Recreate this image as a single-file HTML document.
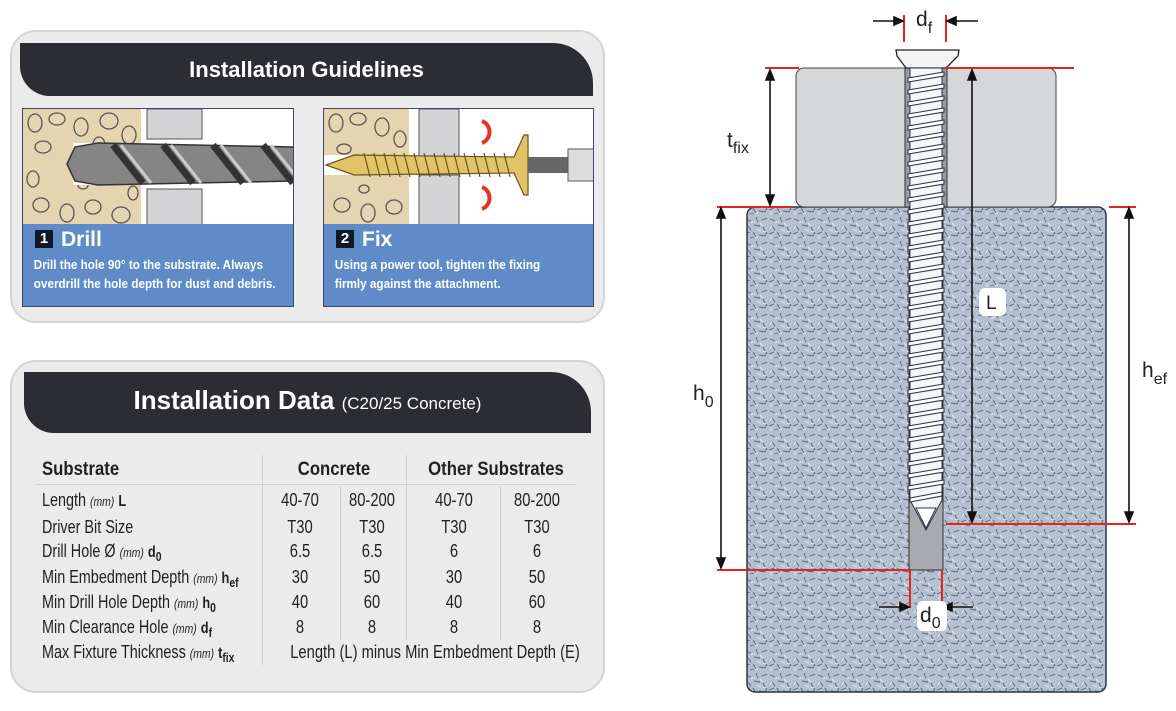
<!DOCTYPE html>
<html><head><meta charset="utf-8">
<style>
*{margin:0;padding:0;box-sizing:border-box}
body{width:1176px;height:711px;background:#fff;position:relative;overflow:hidden;font-family:"Liberation Sans",sans-serif;color:#231f20}
.abs{position:absolute}
.panel{position:absolute;background:#ebebeb;border:2px solid #d4d4d4;border-radius:26px}
.hdr{position:absolute;background:#2b2d33;color:#fff;border-radius:0 40px 0 30px;text-align:center;font-weight:bold}
.card{position:absolute;border:1px solid #3b4a6a;background:#fff;overflow:hidden}
.blue{position:absolute;left:0;right:0;bottom:0;height:82px;background:#5f8bc9;color:#fff}
.num{display:inline-block;background:#111827;color:#fff;font-weight:bold;font-size:15px;width:18px;height:18px;line-height:18px;text-align:center;margin-right:8px;vertical-align:3px}
.tt{font-size:21px;font-weight:bold;padding:4px 0 0 12px}
.desc{font-size:13px;line-height:19px;padding:3px 0 0 12px;transform:scaleX(.9);transform-origin:left;white-space:nowrap;font-weight:bold}
.lab{position:absolute;left:42px;font-size:18px;line-height:22px;white-space:nowrap;transform:scaleX(.8);transform-origin:left center}
.v{position:absolute;width:90px;text-align:center;font-size:18px;line-height:22px;transform:scaleX(.82);white-space:nowrap}
.mm{font-style:italic;font-size:13px}
sub{font-size:13px;font-weight:bold;vertical-align:-4px}
.sb{font-weight:bold;font-size:16px}
.hd{position:absolute;font-weight:bold;font-size:19px;line-height:24px;white-space:nowrap;transform:scaleX(.88);text-align:center}
.vl{position:absolute;width:1px;background:#d0d0d0}
</style></head><body>

<div class="panel" style="left:10px;top:30px;width:595px;height:293px"></div>
<div class="hdr" style="left:20px;top:43px;width:573px;height:53px;line-height:53px;font-size:22px">Installation Guidelines</div>

<div class="card" style="left:22px;top:108px;width:272px;height:199px">
 <svg width="272" height="118" class="abs" style="left:0;top:0">
  <rect x="0" y="0" width="118" height="118" fill="#e6d4b0"/>
  <g fill="none" stroke="#555" stroke-width="1.3">
   <ellipse cx="12" cy="14" rx="7" ry="9"/><ellipse cx="34" cy="10" rx="8" ry="6"/><ellipse cx="58" cy="18" rx="7" ry="9"/><ellipse cx="86" cy="12" rx="9" ry="8"/><ellipse cx="106" cy="26" rx="7" ry="9"/>
   <ellipse cx="20" cy="38" rx="8" ry="6"/><ellipse cx="76" cy="36" rx="6" ry="8"/><ellipse cx="10" cy="70" rx="6" ry="8"/>
   <ellipse cx="18" cy="96" rx="8" ry="7"/><ellipse cx="44" cy="104" rx="7" ry="9"/><ellipse cx="70" cy="98" rx="8" ry="7"/><ellipse cx="98" cy="106" rx="9" ry="8"/><ellipse cx="110" cy="84" rx="5" ry="7"/><ellipse cx="60" cy="76" rx="5" ry="4"/>
  </g>
  <rect x="118" y="0" width="154" height="118" fill="#fff"/>
  <rect x="124" y="0" width="55" height="30" fill="#d4d4d6" stroke="#555"/>
  <rect x="124" y="80" width="55" height="38" fill="#d4d4d6" stroke="#555"/>
  <rect x="50" y="34" width="222" height="42" fill="#fff"/>
  <path d="M44 55 L52 38 L75 34 L272 38 L272 72 L75 76 L52 72Z" fill="#858585" stroke="#333" stroke-width="1.5"/>
  <g stroke="#333" stroke-width="7" fill="none"><path d="M90 36 L120 74 M140 36 L170 74 M190 36 L220 74 M240 36 L270 74"/></g>
  <g stroke="#ccc" stroke-width="3" fill="none"><path d="M98 36 L128 74 M148 36 L178 74 M198 36 L228 74 M248 36 L272 66"/></g>
 </svg>
 <div class="blue"><div class="tt"><span class="num">1</span>Drill</div><div class="desc">Drill the hole 90° to the substrate. Always<br>overdrill the hole depth for dust and debris.</div></div>
</div>

<div class="card" style="left:323px;top:108px;width:271px;height:199px">
 <svg width="271" height="118" class="abs" style="left:0;top:0">
  <rect x="0" y="0" width="85" height="118" fill="#e6d4b0"/>
  <g fill="none" stroke="#555" stroke-width="1.3">
   <ellipse cx="12" cy="14" rx="7" ry="9"/><ellipse cx="34" cy="10" rx="8" ry="6"/><ellipse cx="58" cy="18" rx="7" ry="9"/><ellipse cx="76" cy="30" rx="6" ry="8"/><ellipse cx="20" cy="40" rx="7" ry="5"/>
   <ellipse cx="18" cy="96" rx="8" ry="7"/><ellipse cx="44" cy="104" rx="7" ry="9"/><ellipse cx="70" cy="98" rx="8" ry="7"/><ellipse cx="40" cy="80" rx="5" ry="4"/>
  </g>
  <rect x="0" y="46" width="100" height="20" fill="#fff"/>
  <rect x="95" y="0" width="40" height="48" fill="#d4d4d6" stroke="#555"/>
  <rect x="95" y="66" width="40" height="52" fill="#d4d4d6" stroke="#555"/>
  <path d="M2 56 L30 46 L190 48 L200 26 L204 26 L204 86 L200 86 L190 64 L30 66Z" fill="#e2c36a" stroke="#6b5318" stroke-width="1.2"/>
  <g stroke="#6b5318" stroke-width="1.2"><path d="M40 44 L46 68 M50 44 L56 68 M60 44 L66 68 M70 44 L76 68 M80 44 L86 68 M90 44 L96 68 M100 44 L106 68 M110 44 L116 68 M120 44 L126 68 M130 44 L136 68 M140 44 L146 68 M150 44 L156 68 M160 44 L166 68 M170 44 L176 68 M180 44 L186 68"/></g>
  <rect x="204" y="48" width="40" height="16" fill="#666"/>
  <rect x="244" y="40" width="27" height="32" fill="#ddd" stroke="#555"/>
  <path d="M158 12 C168 16 168 30 158 34" fill="none" stroke="#e8321e" stroke-width="4"/>
  <path d="M158 78 C168 82 168 96 158 100" fill="none" stroke="#e8321e" stroke-width="4"/>
 </svg>
 <div class="blue"><div class="tt"><span class="num">2</span>Fix</div><div class="desc">Using a power tool, tighten the fixing<br>firmly against the attachment.</div></div>
</div>

<div class="panel" style="left:10px;top:360px;width:595px;height:333px"></div>
<div class="hdr" style="left:24px;top:372px;width:567px;height:61px;line-height:56px;font-size:26px">Installation Data <span style="font-weight:normal;font-size:17px">(C20/25 Concrete)</span></div>

<div class="vl" style="left:262px;top:455px;height:210px"></div>
<div class="vl" style="left:406px;top:455px;height:185px"></div>
<div class="vl" style="left:340px;top:486px;height:154px"></div>
<div class="vl" style="left:500px;top:486px;height:154px"></div>
<div class="abs" style="left:36px;top:484px;width:540px;height:1px;background:#d0d0d0"></div>

<div class="hd" style="left:42px;top:458px;transform-origin:left">Substrate</div>
<div class="hd" style="left:284px;top:458px;width:100px">Concrete</div>
<div class="hd" style="left:405px;top:458px;width:182px">Other Substrates</div>

<div class="lab" style="top:489px">Length <span class="mm">(mm)</span> <span class="sb">L</span></div>
<div class="lab" style="top:516px">Driver Bit Size</div>
<div class="lab" style="top:540px">Drill Hole Ø <span class="mm">(mm)</span> <span class="sb">d</span><sub>0</sub></div>
<div class="lab" style="top:566px">Min Embedment Depth <span class="mm">(mm)</span> <span class="sb">h</span><sub>ef</sub></div>
<div class="lab" style="top:591px">Min Drill Hole Depth <span class="mm">(mm)</span> <span class="sb">h</span><sub>0</sub></div>
<div class="lab" style="top:616px">Min Clearance Hole <span class="mm">(mm)</span> <span class="sb">d</span><sub>f</sub></div>
<div class="lab" style="top:641px">Max Fixture Thickness <span class="mm">(mm)</span> <span class="sb">t</span><sub>fix</sub></div>

<div class="v" style="left:255px;top:489px">40-70</div><div class="v" style="left:327px;top:489px">80-200</div><div class="v" style="left:409px;top:489px">40-70</div><div class="v" style="left:492px;top:489px">80-200</div>
<div class="v" style="left:255px;top:516px">T30</div><div class="v" style="left:327px;top:516px">T30</div><div class="v" style="left:409px;top:516px">T30</div><div class="v" style="left:492px;top:516px">T30</div>
<div class="v" style="left:255px;top:540px">6.5</div><div class="v" style="left:327px;top:540px">6.5</div><div class="v" style="left:409px;top:540px">6</div><div class="v" style="left:492px;top:540px">6</div>
<div class="v" style="left:255px;top:566px">30</div><div class="v" style="left:327px;top:566px">50</div><div class="v" style="left:409px;top:566px">30</div><div class="v" style="left:492px;top:566px">50</div>
<div class="v" style="left:255px;top:591px">40</div><div class="v" style="left:327px;top:591px">60</div><div class="v" style="left:409px;top:591px">40</div><div class="v" style="left:492px;top:591px">60</div>
<div class="v" style="left:255px;top:616px">8</div><div class="v" style="left:327px;top:616px">8</div><div class="v" style="left:409px;top:616px">8</div><div class="v" style="left:492px;top:616px">8</div>
<div class="v" style="left:250px;top:641px;width:370px">Length (L) minus Min Embedment Depth (E)</div>

<svg class="abs" style="left:0;top:0" width="1176" height="711">
 <defs>
  <pattern id="tex" width="24" height="24" patternUnits="userSpaceOnUse">
   <rect width="24" height="24" fill="#b4c0d0"/>
   <g stroke="#55627a" stroke-width="0.9">
    <path d="M2 3 l5 2 M12 1 l2 5 M18 4 l5 -2 M4 10 l3 4 M10 9 l6 1 M19 11 l2 4 M1 18 l5 -2 M9 16 l3 5 M15 19 l6 1 M21 20 l2 -4 M6 22 l4 -1"/>
   </g>
   <g stroke="#e6ebf2" stroke-width="0.9">
    <path d="M7 7 l4 -2 M16 7 l3 3 M2 13 l2 -3 M13 13 l4 2 M4 20 l-2 3 M18 16 l4 -1 M11 22 l3 -2"/>
   </g>
  </pattern>
 </defs>
 <rect x="747" y="207" width="359" height="485" rx="8" fill="url(#tex)" stroke="#2b3448" stroke-width="1.5"/>
 <rect x="796" y="68" width="260" height="139" rx="8" fill="#d6d7d9" stroke="#444" stroke-width="1"/>
 <rect x="905" y="68" width="42" height="139" fill="#9a9ea4" stroke="#333"/>
 <rect x="909" y="207" width="34" height="363" fill="#a7aaae" stroke="#333"/>
 <path d="M896 50 L959 50 L958 56 L946 68 L906 68 L897 56Z" fill="#f4f4f4" stroke="#222" stroke-width="1.3"/>
 <path d="M910 68 L942 68 L942 500 L926 530 L910 500Z" fill="#f6f7f9" stroke="#2b3448" stroke-width="1"/>
 <g stroke="#2b3448" stroke-width="1.1" fill="#fff">
  <path d="M908 78 l36 -6 v4 l-36 6z M908 90 l36 -6 v4 l-36 6z M908 102 l36 -6 v4 l-36 6z M908 114 l36 -6 v4 l-36 6z M908 126 l36 -6 v4 l-36 6z M908 138 l36 -6 v4 l-36 6z M908 150 l36 -6 v4 l-36 6z M908 162 l36 -6 v4 l-36 6z M908 174 l36 -6 v4 l-36 6z M908 186 l36 -6 v4 l-36 6z M908 198 l36 -6 v4 l-36 6z M908 210 l36 -6 v4 l-36 6z M908 222 l36 -6 v4 l-36 6z M908 234 l36 -6 v4 l-36 6z M908 246 l36 -6 v4 l-36 6z M908 258 l36 -6 v4 l-36 6z M908 270 l36 -6 v4 l-36 6z M908 282 l36 -6 v4 l-36 6z M908 294 l36 -6 v4 l-36 6z M908 306 l36 -6 v4 l-36 6z M908 318 l36 -6 v4 l-36 6z M908 330 l36 -6 v4 l-36 6z M908 342 l36 -6 v4 l-36 6z M908 354 l36 -6 v4 l-36 6z M908 366 l36 -6 v4 l-36 6z M908 378 l36 -6 v4 l-36 6z M908 390 l36 -6 v4 l-36 6z M908 402 l36 -6 v4 l-36 6z M908 414 l36 -6 v4 l-36 6z M908 426 l36 -6 v4 l-36 6z M908 438 l36 -6 v4 l-36 6z M908 450 l36 -6 v4 l-36 6z M908 462 l36 -6 v4 l-36 6z M908 474 l36 -6 v4 l-36 6z M908 486 l36 -6 v4 l-36 6z M910 498 l32 -6 v4 l-32 6z"/>
 </g>
 <path d="M916 508 L936 508 L926 528Z" fill="#fff" stroke="#2b3448"/>
 <g stroke="#e8231a" stroke-width="2" fill="none">
  <path d="M904 15 v27 M946 15 v27"/>
  <path d="M765 68 h34 M946 68 h128"/>
  <path d="M717 207 h75 M1109 207 h27"/>
  <path d="M946 524 h190"/>
  <path d="M717 570 h193 v38 M942 570 v38"/>
 </g>
 <g stroke="#111" stroke-width="1.6" fill="#111">
  <path d="M873 21 h25"/><path d="M903 21 l-9 -4 v8z"/>
  <path d="M952 21 h26"/><path d="M947 21 l9 -4 v8z"/>
  <path d="M770 75 v125"/><path d="M770 70 l-4 10 h8z"/><path d="M770 205 l-4 -10 h8z"/>
  <path d="M972 75 v442"/><path d="M972 70 l-4 10 h8z"/><path d="M972 522 l-4 -10 h8z"/>
  <path d="M721 213 v350"/><path d="M721 208 l-4 10 h8z"/><path d="M721 568 l-4 -10 h8z"/>
  <path d="M1129 213 v305"/><path d="M1129 208 l-4 10 h8z"/><path d="M1129 522 l-4 -10 h8z"/>
  <path d="M879 607 h22"/><path d="M909 607 l-9 -4 v8z"/>
  <path d="M951 607 h22"/><path d="M943 607 l9 -4 v8z"/>
 </g>
 <rect x="979" y="288" width="27" height="28" rx="6" fill="#fff"/>
 <rect x="917" y="601" width="30" height="30" rx="6" fill="#fff"/>
 <g font-family="Liberation Sans, sans-serif" fill="#231f20">
  <text x="916" y="26" font-size="21">d<tspan font-size="16" dy="7">f</tspan></text>
  <text x="727" y="147" font-size="21">t<tspan font-size="16" dy="6">fix</tspan></text>
  <text x="986" y="309" font-size="19">L</text>
  <text x="693" y="400" font-size="21">h<tspan font-size="16" dy="7">0</tspan></text>
  <text x="1142" y="377" font-size="21">h<tspan font-size="16" dy="7">ef</tspan></text>
  <text x="920" y="622" font-size="21">d<tspan font-size="16" dy="6">0</tspan></text>
 </g>
</svg>
</body></html>
